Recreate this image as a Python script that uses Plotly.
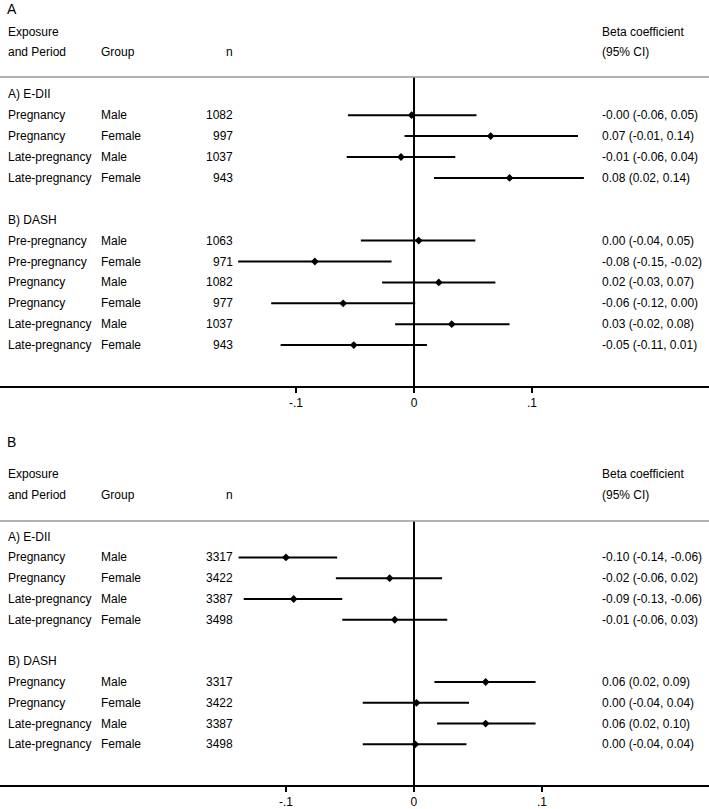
import plotly.graph_objects as go

# ---------------- data ----------------
# Panel A
a_edii_exposure = ["Pregnancy", "Pregnancy", "Late-pregnancy", "Late-pregnancy"]
a_edii_group = ["Male", "Female", "Male", "Female"]
a_edii_n = [1082, 997, 1037, 943]
a_edii_beta = [-0.002, 0.065, -0.011, 0.081]
a_edii_lo = [-0.056, -0.008, -0.057, 0.017]
a_edii_hi = [0.053, 0.139, 0.035, 0.144]
a_edii_label = ["-0.00 (-0.06, 0.05)", "0.07 (-0.01, 0.14)", "-0.01 (-0.06, 0.04)", "0.08 (0.02, 0.14)"]

a_dash_exposure = ["Pre-pregnancy", "Pre-pregnancy", "Pregnancy", "Pregnancy", "Late-pregnancy", "Late-pregnancy"]
a_dash_group = ["Male", "Female", "Male", "Female", "Male", "Female"]
a_dash_n = [1063, 971, 1082, 977, 1037, 943]
a_dash_beta = [0.004, -0.084, 0.021, -0.060, 0.032, -0.051]
a_dash_lo = [-0.045, -0.149, -0.027, -0.121, -0.016, -0.113]
a_dash_hi = [0.052, -0.019, 0.069, 0.001, 0.081, 0.011]
a_dash_label = ["0.00 (-0.04, 0.05)", "-0.08 (-0.15, -0.02)", "0.02 (-0.03, 0.07)",
                "-0.06 (-0.12, 0.00)", "0.03 (-0.02, 0.08)", "-0.05 (-0.11, 0.01)"]

# Panel B
b_edii_exposure = ["Pregnancy", "Pregnancy", "Late-pregnancy", "Late-pregnancy"]
b_edii_group = ["Male", "Female", "Male", "Female"]
b_edii_n = [3317, 3422, 3387, 3498]
b_edii_beta = [-0.100, -0.019, -0.094, -0.015]
b_edii_lo = [-0.137, -0.061, -0.133, -0.056]
b_edii_hi = [-0.060, 0.022, -0.056, 0.026]
b_edii_label = ["-0.10 (-0.14, -0.06)", "-0.02 (-0.06, 0.02)", "-0.09 (-0.13, -0.06)", "-0.01 (-0.06, 0.03)"]

b_dash_exposure = ["Pregnancy", "Pregnancy", "Late-pregnancy", "Late-pregnancy"]
b_dash_group = ["Male", "Female", "Male", "Female"]
b_dash_n = [3317, 3422, 3387, 3498]
b_dash_beta = [0.056, 0.002, 0.056, 0.001]
b_dash_lo = [0.016, -0.040, 0.018, -0.040]
b_dash_hi = [0.095, 0.043, 0.095, 0.041]
b_dash_label = ["0.06 (0.02, 0.09)", "0.00 (-0.04, 0.04)", "0.06 (0.02, 0.10)", "0.00 (-0.04, 0.04)"]

section_titles = ["A) E-DII", "B) DASH"]
tick_vals = [-0.1, 0, 0.1]
tick_text = ["-.1", "0", ".1"]

# ---------------- layout constants ----------------
W, H = 709, 809
FONT = "Liberation Sans, Arial, sans-serif"
FS = 12


def px_x(p):
    return p / W


def px_y(p):
    return 1 - p / H


fig = go.Figure()
annotations = []
shapes = []

panels = [
    dict(name="A", xa="x", ya="y",
         sections=[(a_edii_exposure, a_edii_group, a_edii_n, a_edii_beta, a_edii_lo, a_edii_hi, a_edii_label),
                   (a_dash_exposure, a_dash_group, a_dash_n, a_dash_beta, a_dash_lo, a_dash_hi, a_dash_label)],
         letter_y=9, hdr1=32, hdr2=52, line_y=77, axis_y=386, first_row=94.3, step=20.9,
         xrange=[-0.3508, 0.25]),
    dict(name="B", xa="x2", ya="y2",
         sections=[(b_edii_exposure, b_edii_group, b_edii_n, b_edii_beta, b_edii_lo, b_edii_hi, b_edii_label),
                   (b_dash_exposure, b_dash_group, b_dash_n, b_dash_beta, b_dash_lo, b_dash_hi, b_dash_label)],
         letter_y=442, hdr1=474, hdr2=495, line_y=521, axis_y=785.3, first_row=536.7, step=20.76,
         xrange=[-0.3234, 0.2305]),
]

layout_axes = {}
for i, p in enumerate(panels):
    suffix = "" if i == 0 else str(i + 1)
    yref = "y" + suffix
    rows_y, betas, los, his = [], [], [], []
    k = 0
    for si, (expo, grp, nn, beta, lo, hi, lab) in enumerate(p["sections"]):
        annotations.append(dict(x=px_x(6), y=k, xref="paper", yref=yref, text=section_titles[si],
                                showarrow=False, xanchor="left", yanchor="middle"))
        k += 1
        for j in range(len(beta)):
            annotations.append(dict(x=px_x(6), y=k, xref="paper", yref=yref, text=expo[j],
                                    showarrow=False, xanchor="left", yanchor="middle"))
            annotations.append(dict(x=px_x(99), y=k, xref="paper", yref=yref, text=grp[j],
                                    showarrow=False, xanchor="left", yanchor="middle"))
            annotations.append(dict(x=px_x(235), y=k, xref="paper", yref=yref, text=str(nn[j]),
                                    showarrow=False, xanchor="right", yanchor="middle"))
            annotations.append(dict(x=px_x(600), y=k, xref="paper", yref=yref, text=lab[j],
                                    showarrow=False, xanchor="left", yanchor="middle"))
            rows_y.append(k)
            betas.append(beta[j])
            los.append(lo[j])
            his.append(hi[j])
            k += 1
        k += 1  # blank row between sections

    fig.add_trace(go.Scatter(
        x=betas, y=rows_y, xaxis=p["xa"], yaxis=p["ya"], mode="markers",
        marker=dict(symbol="diamond", size=6, color="black"),
        error_x=dict(type="data", symmetric=False,
                     array=[h - b for h, b in zip(his, betas)],
                     arrayminus=[b - l for b, l in zip(betas, los)],
                     thickness=2, width=0, color="black"),
        showlegend=False, hoverinfo="skip"))

    top_k = (p["line_y"] - p["first_row"]) / p["step"]
    bot_k = (p["axis_y"] - p["first_row"]) / p["step"]
    layout_axes["xaxis" + suffix] = dict(
        domain=[0, 1], range=p["xrange"], anchor=yref,
        showline=True, linecolor="black", linewidth=1.5,
        ticks="outside", ticklen=5, tickwidth=1.5, tickcolor="black",
        tickvals=tick_vals, ticktext=tick_text,
        tickfont=dict(family=FONT, size=FS, color="black"),
        showgrid=False, zeroline=True, zerolinecolor="black", zerolinewidth=1.5,
        fixedrange=True)
    layout_axes["yaxis" + suffix] = dict(
        domain=[px_y(p["axis_y"]), px_y(p["line_y"])], range=[bot_k, top_k],
        anchor=p["xa"], visible=False, showgrid=False, zeroline=False, fixedrange=True)

    # panel letter and headers
    annotations.append(dict(x=px_x(5), y=px_y(p["letter_y"]), xref="paper", yref="paper", text=p["name"],
                            showarrow=False, xanchor="left", yanchor="middle", font=dict(size=14)))
    annotations.append(dict(x=px_x(6), y=px_y(p["hdr1"]), xref="paper", yref="paper", text="Exposure",
                            showarrow=False, xanchor="left", yanchor="middle"))
    annotations.append(dict(x=px_x(6), y=px_y(p["hdr2"]), xref="paper", yref="paper", text="and Period",
                            showarrow=False, xanchor="left", yanchor="middle"))
    annotations.append(dict(x=px_x(99), y=px_y(p["hdr2"]), xref="paper", yref="paper", text="Group",
                            showarrow=False, xanchor="left", yanchor="middle"))
    annotations.append(dict(x=px_x(235), y=px_y(p["hdr2"]), xref="paper", yref="paper", text="n",
                            showarrow=False, xanchor="right", yanchor="middle"))
    annotations.append(dict(x=px_x(600), y=px_y(p["hdr1"]), xref="paper", yref="paper", text="Beta coefficient",
                            showarrow=False, xanchor="left", yanchor="middle"))
    annotations.append(dict(x=px_x(600), y=px_y(p["hdr2"]), xref="paper", yref="paper", text="(95% CI)",
                            showarrow=False, xanchor="left", yanchor="middle"))
    shapes.append(dict(type="line", xref="paper", yref="paper", x0=0, x1=1,
                       y0=px_y(p["line_y"]), y1=px_y(p["line_y"]),
                       line=dict(color="#9a9a9a", width=1.5)))

fig.update_layout(
    width=W, height=H,
    margin=dict(l=0, r=0, t=0, b=0),
    paper_bgcolor="white", plot_bgcolor="white",
    font=dict(family=FONT, size=FS, color="black"),
    annotations=annotations, shapes=shapes,
    showlegend=False,
    **layout_axes)

fig.write_html("out.html",
               config={"displayModeBar": False, "staticPlot": True},
               post_script="document.body.style.margin='0';document.body.style.overflow='hidden';")
